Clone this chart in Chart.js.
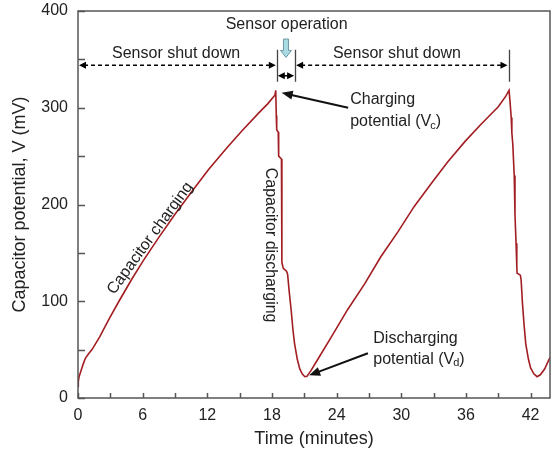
<!DOCTYPE html>
<html><head><meta charset="utf-8">
<script src="https://cdn.jsdelivr.net/npm/chart.js@4.4.0/dist/chart.umd.min.js"></script>
<style>html,body{margin:0;padding:0;background:#fff;}#wrap{width:555px;height:457px;}</style>
</head><body><div id="wrap"><canvas id="c" width="555" height="457"></canvas></div>
<script>
// ---- data (time in minutes, capacitor potential in mV) ----
const timeMin = [
 0, 0.03, 0.1, 0.22, 0.45, 0.68, 1.0, 1.3, 2.0, 2.85, 3.8, 5.0, 6.0, 7.5, 9.0, 10.6, 12.1, 13.7, 15.2, 16.8, 17.6, 18.27, 18.35,
 18.4, 18.44, 18.58, 18.62, 18.88, 18.92, 19.05, 19.35, 19.45, 19.6, 19.77, 19.95, 20.1, 20.35, 20.58, 20.8, 21.05, 21.25,
 21.6, 22.2, 23.5, 25.0, 26.6, 28.1, 29.7, 31.2, 32.8, 34.3, 35.9, 37.4, 39.0, 39.7, 40.0,
 40.1, 40.2, 40.26, 40.35, 40.41, 40.48, 40.55, 40.65, 40.72, 40.75, 41.05, 41.12, 41.25, 41.4, 41.55, 41.8, 42.0, 42.3, 42.6, 42.9, 43.3, 43.8
];
const potentialMV = [
 12, 17, 22, 26, 34, 41, 46, 50, 63, 81, 100, 123, 141, 166, 190, 214, 236, 257, 276, 295, 304, 313, 318,
 292, 277, 275, 250, 247, 140, 134, 131, 128, 110, 92, 70, 56, 40, 30, 25, 22, 22.5,
 28, 39, 63, 91, 118, 146, 172, 198, 222, 244, 265, 283, 301, 312, 318,
 305, 290, 274, 262, 247, 230, 190, 160, 136, 129, 127, 122, 97, 75, 56, 40, 31, 25, 22, 24, 30, 42
];
const xTickLabels = [0, 6, 12, 18, 24, 30, 36, 42];
const yTickLabels = [0, 100, 200, 300, 400];
const xMinorStep = 3;
const yMinorStep = 50;

const FONT = "'Liberation Sans', Arial, sans-serif";
const TXT = '#222';

// annotation anchors in data coordinates
const notes = {
  shutDown1: {x: 9.1, y: 356},
  shutDown2: {x: 29.6, y: 356},
  operation: {x: 19.36, y: 385.5},
  markerTimes: [18.45, 20.15, 39.95],
  markerTop: 360, markerBottom: 327,
  dashedY: 344, smallArrowY: 333,
  blueArrow: {x: 19.3, y1: 371, y2: 352},
  chargeText: {x: 25.26, y1: 308, y2: 285.6},
  chargeArrow: {x1: 25.07, y1: 300, x2: 18.9, y2: 315.5},
  dischText: {x: 27.4, y1: 61.7, y2: 40},
  dischArrow: {x1: 26.9, y1: 46.2, x2: 21.45, y2: 23.5},
  capCharge: {x: 6.69, y: 165, angle: -54},
  capDisch: {x: 17.83, y: 158, angle: 90}
};

function arrowHead(ctx, x, y, ang, len, half) {
  ctx.beginPath();
  ctx.moveTo(x, y);
  ctx.lineTo(x - len*Math.cos(ang) + half*Math.sin(ang), y - len*Math.sin(ang) - half*Math.cos(ang));
  ctx.lineTo(x - len*Math.cos(ang) - half*Math.sin(ang), y - len*Math.sin(ang) + half*Math.cos(ang));
  ctx.closePath(); ctx.fill();
}
function arrow(ctx, x1, y1, x2, y2, len, half) {
  const a = Math.atan2(y2-y1, x2-x1);
  ctx.beginPath(); ctx.moveTo(x1, y1);
  ctx.lineTo(x2 - Math.cos(a)*len*0.7, y2 - Math.sin(a)*len*0.7); ctx.stroke();
  arrowHead(ctx, x2, y2, a, len, half);
}
function dblArrow(ctx, x1, x2, y, dashed) {
  ctx.save();
  if (dashed) ctx.setLineDash([4, 3]);
  ctx.beginPath(); ctx.moveTo(x1+5, y); ctx.lineTo(x2-5, y); ctx.stroke();
  ctx.restore();
  arrowHead(ctx, x1, y, Math.PI, 7, 3.5);
  arrowHead(ctx, x2, y, 0, 7, 3.5);
}
function subText(ctx, x, y, main, sub, tail) {
  ctx.textAlign = 'left';
  ctx.font = '16px ' + FONT;
  ctx.fillText(main, x, y);
  let w = ctx.measureText(main).width;
  ctx.font = '11px ' + FONT;
  ctx.fillText(sub, x + w - 1, y + 4);
  const w2 = ctx.measureText(sub).width;
  ctx.font = '16px ' + FONT;
  ctx.fillText(tail, x + w + w2 - 1, y);
}

const annot = {
  id: 'annot',
  afterDraw(chart) {
    const {ctx, chartArea: ca, scales: {x, y}} = chart;
    const X = v => x.getPixelForValue(v), Y = v => y.getPixelForValue(v);
    ctx.save();
    // frame
    ctx.strokeStyle = '#555'; ctx.lineWidth = 1.5;
    ctx.strokeRect(ca.left, ca.top, ca.right - ca.left, ca.bottom - ca.top);
    // inward ticks
    ctx.beginPath();
    for (let t = 0; t <= x.max; t += xMinorStep) { const px = Math.round(X(t)) + 0.5; ctx.moveTo(px, ca.bottom); ctx.lineTo(px, ca.bottom - 5); }
    for (let v = 0; v <= y.max; v += yMinorStep) { const py = Math.round(Y(v)) + 0.5; ctx.moveTo(ca.left, py); ctx.lineTo(ca.left + 7, py); }
    ctx.stroke();

    ctx.fillStyle = TXT; ctx.textBaseline = 'middle'; ctx.font = '16px ' + FONT; ctx.textAlign = 'center';
    ctx.fillText('Sensor shut down', X(notes.shutDown1.x), Y(notes.shutDown1.y));
    ctx.fillText('Sensor shut down', X(notes.shutDown2.x), Y(notes.shutDown2.y));
    ctx.fillText('Sensor operation', X(notes.operation.x), Y(notes.operation.y));

    // marker lines
    ctx.strokeStyle = '#444'; ctx.lineWidth = 1.3;
    ctx.beginPath();
    notes.markerTimes.forEach(t => { const px = Math.round(X(t)) + 0.5; ctx.moveTo(px, Y(notes.markerTop)); ctx.lineTo(px, Y(notes.markerBottom)); });
    ctx.stroke();
    ctx.strokeStyle = '#000'; ctx.fillStyle = '#000'; ctx.lineWidth = 1.5;
    const m = notes.markerTimes.map(X);
    dblArrow(ctx, ca.left + 1, m[0] - 1, Y(notes.dashedY), true);
    dblArrow(ctx, m[1] + 1, m[2] - 1, Y(notes.dashedY), true);
    dblArrow(ctx, m[0] + 1, m[1] - 1, Y(notes.smallArrowY), false);

    // blue block arrow
    const bx = X(notes.blueArrow.x), by1 = Y(notes.blueArrow.y1), by2 = Y(notes.blueArrow.y2);
    ctx.beginPath();
    ctx.moveTo(bx - 2.5, by1); ctx.lineTo(bx + 2.5, by1); ctx.lineTo(bx + 2.5, by2 - 7);
    ctx.lineTo(bx + 5.5, by2 - 7); ctx.lineTo(bx, by2); ctx.lineTo(bx - 5.5, by2 - 7); ctx.lineTo(bx - 2.5, by2 - 7);
    ctx.closePath();
    ctx.fillStyle = '#a9dbe3'; ctx.fill(); ctx.strokeStyle = '#6c98a4'; ctx.lineWidth = 1; ctx.stroke();

    // charging / discharging potential notes
    ctx.fillStyle = TXT; ctx.textBaseline = 'middle';
    ctx.textAlign = 'left'; ctx.font = '16px ' + FONT;
    ctx.fillText('Charging', X(notes.chargeText.x), Y(notes.chargeText.y1));
    subText(ctx, X(notes.chargeText.x), Y(notes.chargeText.y2), 'potential (V', 'c', ')');
    ctx.fillText('Discharging', X(notes.dischText.x), Y(notes.dischText.y1));
    subText(ctx, X(notes.dischText.x), Y(notes.dischText.y2), 'potential (V', 'd', ')');

    ctx.strokeStyle = '#111'; ctx.fillStyle = '#111'; ctx.lineWidth = 2;
    const ca1 = notes.chargeArrow, da = notes.dischArrow;
    arrow(ctx, X(ca1.x1), Y(ca1.y1), X(ca1.x2), Y(ca1.y2), 11, 4.5);
    arrow(ctx, X(da.x1), Y(da.y1), X(da.x2), Y(da.y2), 11, 4.5);

    // rotated labels
    ctx.fillStyle = TXT; ctx.font = '16px ' + FONT; ctx.textAlign = 'center';
    [['Capacitor charging', notes.capCharge], ['Capacitor discharging', notes.capDisch]].forEach(([s, n]) => {
      ctx.save(); ctx.translate(X(n.x), Y(n.y)); ctx.rotate(n.angle * Math.PI / 180);
      ctx.fillText(s, 0, 0); ctx.restore();
    });
    ctx.restore();
  }
};

new Chart(document.getElementById('c'), {
  type: 'line',
  data: {
    datasets: [{
      data: timeMin.map((t, i) => ({x: t, y: potentialMV[i]})),
      borderColor: '#a21d22', borderWidth: 1.6, pointRadius: 0, tension: 0, fill: false
    }]
  },
  options: {
    responsive: false, animation: false, devicePixelRatio: 1,
    layout: {padding: {left: 0, right: 5, top: 11, bottom: 0}},
    plugins: {legend: {display: false}, tooltip: {enabled: false}},
    scales: {
      x: {
        type: 'linear', min: 0, max: 43.8,
        afterFit(s) { s.height = 59; s.paddingLeft = 0; s.paddingRight = 0; },
        afterBuildTicks(s) { s.ticks = xTickLabels.map(v => ({value: v})); },
        border: {display: false}, grid: {display: false, drawTicks: false},
        ticks: {padding: 8, color: TXT, font: {family: FONT, size: 16}, maxRotation: 0, autoSkip: false},
        title: {display: true, text: 'Time (minutes)', color: TXT, font: {family: FONT, size: 18}, padding: {top: 0, bottom: 7}}
      },
      y: {
        min: 0, max: 400,
        afterFit(s) { s.width = 78; s.paddingTop = 0; s.paddingBottom = 0; },
        afterBuildTicks(s) { s.ticks = yTickLabels.map(v => ({value: v})); },
        border: {display: false}, grid: {display: false, drawTicks: false},
        ticks: {padding: 10, color: TXT, font: {family: FONT, size: 16}},
        title: {display: true, text: 'Capacitor potential, V (mV)', color: TXT, font: {family: FONT, size: 18}, padding: {top: 9, bottom: 0}}
      }
    }
  },
  plugins: [annot]
});
</script></body></html>
